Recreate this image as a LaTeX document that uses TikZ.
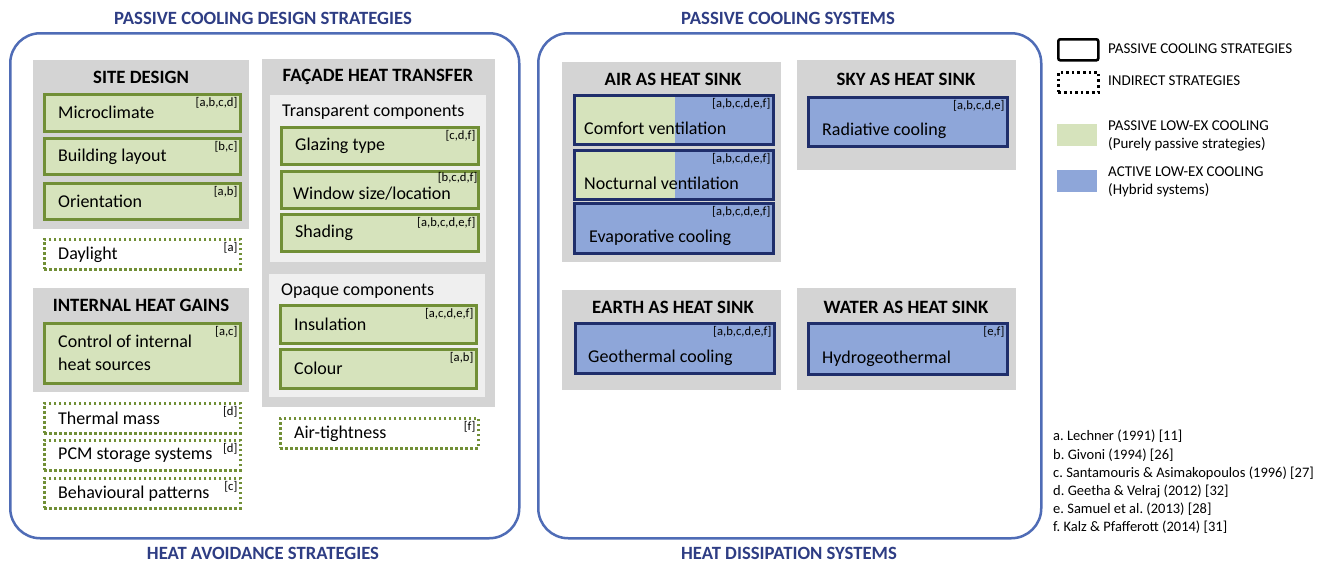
\documentclass[tikz,border=0pt]{standalone}
\usepackage{fontspec}
\setmainfont{Carlito}
\frenchspacing
\definecolor{outerblue}{HTML}{4F6CB6}
\definecolor{headblue}{HTML}{2E3D84}
\definecolor{grayc}{HTML}{D4D4D4}
\definecolor{lightc}{HTML}{EFEFEF}
\definecolor{gfill}{HTML}{D6E3BC}
\definecolor{gdraw}{HTML}{718F36}
\definecolor{bfill}{HTML}{8EA6D9}
\definecolor{bdraw}{HTML}{1F2E6B}
\tikzset{
  outerbox/.style={draw=outerblue, line width=2.5pt, rounded corners=30pt, anchor=north west, inner sep=0pt},
  head/.style={text=headblue, font=\bfseries\fontsize{18.7}{22}\selectfont, inner sep=0pt},
  graybox/.style={fill=grayc, anchor=north west, inner sep=0pt},
  lightbox/.style={fill=lightc, anchor=north west, inner sep=0pt},
  gbox/.style={fill=gfill, draw=gdraw, line width=2.6pt, anchor=north west, inner sep=0pt},
  dbox/.style={draw=gdraw, line width=2.6pt, dash pattern=on 2.4pt off 2.6pt, anchor=north west, inner sep=0pt},
  bbox/.style={fill=bfill, draw=bdraw, line width=2.6pt, anchor=north west, inner sep=0pt},
  sect/.style={font=\bfseries\fontsize{18.8}{22}\selectfont, inner sep=0pt},
  txt/.style={font=\fontsize{18}{23}\selectfont, anchor=west, inner sep=0pt, align=left},
  reftag/.style={font=\fontsize{12.6}{14}\selectfont, anchor=north east, inner sep=0pt},
  legtxt/.style={font=\fontsize{15}{18}\selectfont, anchor=west, inner sep=0pt, align=left},
}
\newcommand\boxat[6]{\node[#1, minimum width={(#5)-(#3)}, minimum height={(#6)-(#4)}] (#2) at (#3,#4) {};}
\newcommand\gitem[7]{\boxat{gbox}{#1}{#2}{#3}{#4}{#5}
  \node[txt] (#1-t) at ([xshift=15pt]#1.west) {#6};
  \node[reftag] (#1-r) at ([shift={(-4pt,-4pt)}]#1.north east) {#7};}
\newcommand\ditem[7]{\boxat{dbox}{#1}{#2}{#3}{#4}{#5}
  \node[txt] (#1-t) at ([xshift=15pt]#1.west) {#6};
  \node[reftag] (#1-r) at ([shift={(-4pt,-4pt)}]#1.north east) {#7};}
\newcommand\bitem[8]{\boxat{bbox}{#1}{#2}{#3}{#4}{#5}
  \node[txt] (#1-t) at ([shift={(#8pt,17pt)}]#1.south west) {#6};
  \node[reftag] (#1-r) at ([shift={(-4pt,-4pt)}]#1.north east) {#7};}
\newcommand\sitem[8]{\node[bbox, minimum width={(#4)-(#2)}, minimum height={(#5)-(#3)},
    path picture={\fill[gfill] (path picture bounding box.north west) rectangle ([xshift=101pt]path picture bounding box.south west);}] (#1) at (#2,#3) {};
  \node[txt] (#1-t) at ([shift={(#8pt,17pt)}]#1.south west) {#6};
  \node[reftag] (#1-r) at ([shift={(-4pt,-4pt)}]#1.north east) {#7};}
\begin{document}
\begin{tikzpicture}[x=1pt,y=-1pt]
\useasboundingbox[fill=white] (0,0) rectangle (1331,562);

% outer frames
\boxat{outerbox}{leftframe}{9}{32}{518}{537}
\boxat{outerbox}{rightframe}{537}{32}{1040}{537}
\node[head] (h1) at (263,18) {PASSIVE COOLING DESIGN STRATEGIES};
\node[head] (h2) at (263,553) {HEAT AVOIDANCE STRATEGIES};
\node[head] (h3) at (788,18) {PASSIVE COOLING SYSTEMS};
\node[head] (h4) at (789,553) {HEAT DISSIPATION SYSTEMS};

% site design
\boxat{graybox}{site}{33}{60}{249}{229}
\node[sect] (site-t) at (141,77) {SITE DESIGN};
\gitem{micro}{43}{93}{239}{130}{Microclimate}{[a,b,c,d]}
\gitem{layout}{43}{137}{239}{173}{Building layout}{[b,c]}
\gitem{orient}{43}{182}{239}{218}{Orientation}{[a,b]}
\ditem{day}{43}{238}{239}{268}{Daylight}{[a]}

% internal heat gains
\boxat{graybox}{ihg}{33}{288}{249}{392}
\node[sect] (ihg-t) at (141,305) {INTERNAL HEAT GAINS};
\gitem{ctrl}{43}{322}{239}{382}{Control of internal\\heat sources}{[a,c]}
\ditem{tmass}{43}{402}{239}{432}{Thermal mass}{[d]}
\ditem{pcm}{43}{439}{239}{469}{PCM storage systems}{[d]}
\ditem{behav}{43}{477}{239}{507}{Behavioural patterns}{[c]}

% facade
\boxat{graybox}{fac}{262}{59}{495}{407}
\node[sect] (fac-t) at (378,77) {FAÇADE HEAT TRANSFER};
\boxat{lightbox}{transp}{270}{95}{486}{262}
\node[txt] (transp-t) at (282,112) {Transparent components};
\gitem{glaz}{280}{126}{477}{163}{Glazing type}{[c,d,f]}
\boxat{gbox}{win}{280}{170}{477}{207}
\node[txt] (win-t) at ([shift={(13pt,-4pt)}]win.west) {Window size/location};
\node[reftag] (win-r) at ([shift={(-2pt,-2pt)}]win.north east) {[b,c,d,f]};
\gitem{shad}{280}{213}{477}{250}{Shading}{[a,b,c,d,e,f]}
\boxat{lightbox}{opaq}{269}{274}{485}{397}
\node[txt] (opaq-t) at (281,291) {Opaque components};
\gitem{insul}{279}{304}{475}{342}{Insulation}{[a,c,d,e,f]}
\gitem{col}{279}{348}{475}{387}{Colour}{[a,b]}
\ditem{airt}{279}{417}{477}{447}{Air-tightness}{[f]}

% air
\boxat{graybox}{airs}{562}{62}{781}{262}
\node[sect] (airs-t) at (673,79) {AIR AS HEAT SINK};
\sitem{comf}{573}{94}{772}{143}{Comfort ventilation}{[a,b,c,d,e,f]}{11}
\sitem{noct}{573}{149}{772}{198}{Nocturnal ventilation}{[a,b,c,d,e,f]}{11}
\bitem{evap}{573}{202}{772}{252}{Evaporative cooling}{[a,b,c,d,e,f]}{16}

% sky
\boxat{graybox}{sky}{797}{60}{1016}{170}
\node[sect] (sky-t) at (906,79) {SKY AS HEAT SINK};
\bitem{rad}{807}{96}{1006}{145}{Radiative cooling}{[a,b,c,d,e]}{15}

% earth
\boxat{graybox}{earth}{562}{290}{781}{390}
\node[sect] (earth-t) at (673,307) {EARTH AS HEAT SINK};
\bitem{geo}{574}{322}{773}{372}{Geothermal cooling}{[a,b,c,d,e,f]}{14}

% water
\boxat{graybox}{water}{797}{288}{1016}{390}
\node[sect] (water-t) at (906,307) {WATER AS HEAT SINK};
\bitem{hydro}{807}{322}{1006}{373}{Hydrogeothermal}{[e,f]}{15}

% legend
\node[draw=black, line width=2.6pt, rounded corners=2pt, anchor=north west, minimum width=40pt, minimum height=21pt, inner sep=0pt] (lg1) at (1057,38) {};
\node[legtxt] (lg1-t) at (1108,49) {PASSIVE COOLING STRATEGIES};
\node[draw=black, line width=2.6pt, dash pattern=on 2.6pt off 3pt, anchor=north west, minimum width=40pt, minimum height=20pt, inner sep=0pt] (lg2) at (1057,71) {};
\node[legtxt] (lg2-t) at (1108,81) {INDIRECT STRATEGIES};
\node[fill=gfill, anchor=north west, minimum width=40pt, minimum height=22pt, inner sep=0pt] (lg3) at (1057,124) {};
\node[legtxt] (lg3-t) at (1108,136) {PASSIVE LOW-EX COOLING\\(Purely passive strategies)};
\node[fill=bfill, anchor=north west, minimum width=40pt, minimum height=22pt, inner sep=0pt] (lg4) at (1057,170) {};
\node[legtxt] (lg4-t) at (1108,182) {ACTIVE LOW-EX COOLING\\(Hybrid systems)};

% references
\node[legtxt, font=\fontsize{14.5}{18.2}\selectfont] (refs) at (1053,482) {a. Lechner (1991) [11]\\b. Givoni (1994) [26]\\c. Santamouris \& Asimakopoulos (1996) [27]\\d. Geetha \& Velraj (2012) [32]\\e. Samuel et al. (2013) [28]\\f. Kalz \& Pfafferott (2014) [31]};
\end{tikzpicture}
\end{document}
